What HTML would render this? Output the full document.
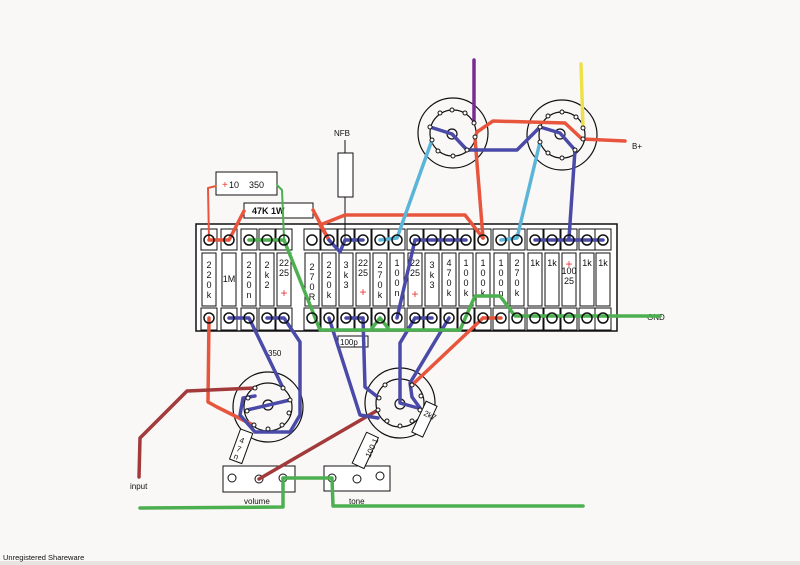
<!DOCTYPE html>
<html><head><meta charset="utf-8"><style>
html,body{margin:0;padding:0;background:#faf8f7}
svg{display:block}
text{font-family:"Liberation Sans",sans-serif;fill:#111}
</style></head><body>
<svg width="800" height="565" viewBox="0 0 800 565" xmlns="http://www.w3.org/2000/svg">
<rect width="800" height="565" fill="#faf8f7"/>
<rect x="0" y="561" width="800" height="4" fill="#e8e4e1"/>
<!-- board -->
<rect x="196" y="224" width="421" height="107" fill="#fff" stroke="#111" stroke-width="1.5"/>
<g fill="#fff" stroke="#111" stroke-width="1">
<rect x="201" y="229" width="16" height="21"/><rect x="221" y="229" width="16" height="21"/><rect x="241" y="229" width="16" height="21"/><rect x="259" y="229" width="16" height="21"/><rect x="276" y="229" width="16" height="21"/><rect x="304" y="229" width="16" height="21"/><rect x="321" y="229" width="16" height="21"/><rect x="338" y="229" width="16" height="21"/><rect x="355" y="229" width="16" height="21"/><rect x="372" y="229" width="16" height="21"/><rect x="389" y="229" width="16" height="21"/><rect x="407" y="229" width="16" height="21"/><rect x="424" y="229" width="16" height="21"/><rect x="441" y="229" width="16" height="21"/><rect x="458" y="229" width="16" height="21"/><rect x="475" y="229" width="16" height="21"/><rect x="493" y="229" width="16" height="21"/><rect x="509" y="229" width="16" height="21"/><rect x="527" y="229" width="16" height="21"/><rect x="544" y="229" width="16" height="21"/><rect x="561" y="229" width="16" height="21"/><rect x="579" y="229" width="16" height="21"/><rect x="595" y="229" width="16" height="21"/>
<rect x="201" y="308" width="16" height="22"/><rect x="221" y="308" width="16" height="22"/><rect x="241" y="308" width="16" height="22"/><rect x="259" y="308" width="16" height="22"/><rect x="276" y="308" width="16" height="22"/><rect x="304" y="308" width="16" height="22"/><rect x="321" y="308" width="16" height="22"/><rect x="338" y="308" width="16" height="22"/><rect x="355" y="308" width="16" height="22"/><rect x="372" y="308" width="16" height="22"/><rect x="389" y="308" width="16" height="22"/><rect x="407" y="308" width="16" height="22"/><rect x="424" y="308" width="16" height="22"/><rect x="441" y="308" width="16" height="22"/><rect x="458" y="308" width="16" height="22"/><rect x="475" y="308" width="16" height="22"/><rect x="493" y="308" width="16" height="22"/><rect x="509" y="308" width="16" height="22"/><rect x="527" y="308" width="16" height="22"/><rect x="544" y="308" width="16" height="22"/><rect x="561" y="308" width="16" height="22"/><rect x="579" y="308" width="16" height="22"/><rect x="595" y="308" width="16" height="22"/>
<rect x="202" y="253" width="14" height="53"/><rect x="222" y="253" width="14" height="53"/><rect x="242" y="253" width="14" height="53"/><rect x="260" y="253" width="14" height="53"/><rect x="277" y="253" width="14" height="53"/><rect x="305" y="253" width="14" height="53"/><rect x="322" y="253" width="14" height="53"/><rect x="339" y="253" width="14" height="53"/><rect x="356" y="253" width="14" height="53"/><rect x="373" y="253" width="14" height="53"/><rect x="390" y="253" width="14" height="53"/><rect x="408" y="253" width="14" height="53"/><rect x="425" y="253" width="14" height="53"/><rect x="442" y="253" width="14" height="53"/><rect x="459" y="253" width="14" height="53"/><rect x="476" y="253" width="14" height="53"/><rect x="494" y="253" width="14" height="53"/><rect x="510" y="253" width="14" height="53"/><rect x="528" y="253" width="14" height="53"/><rect x="545" y="253" width="14" height="53"/><rect x="562" y="253" width="14" height="53"/><rect x="580" y="253" width="14" height="53"/><rect x="596" y="253" width="14" height="53"/>
</g>
<!-- labels -->
<g font-size="9" text-anchor="middle">
<text x="209" y="268">2</text><text x="209" y="278">2</text><text x="209" y="288">0</text><text x="209" y="298">k</text>
<text x="229" y="282">1M</text>
<text x="249" y="268">2</text><text x="249" y="278">2</text><text x="249" y="288">0</text><text x="249" y="298">n</text>
<text x="267" y="268">2</text><text x="267" y="278">k</text><text x="267" y="288">2</text>
<text x="284" y="266">22</text><text x="284" y="276">25</text>
<text x="312" y="270">2</text><text x="312" y="280">7</text><text x="312" y="290">0</text><text x="312" y="300">R</text>
<text x="329" y="268">2</text><text x="329" y="278">2</text><text x="329" y="288">0</text><text x="329" y="298">k</text>
<text x="346" y="268">3</text><text x="346" y="278">k</text><text x="346" y="288">3</text>
<text x="363" y="266">22</text><text x="363" y="276">25</text>
<text x="380" y="268">2</text><text x="380" y="278">7</text><text x="380" y="288">0</text><text x="380" y="298">k</text>
<text x="397" y="266">1</text><text x="397" y="276">0</text><text x="397" y="286">0</text><text x="397" y="296">n</text>
<text x="415" y="266">22</text><text x="415" y="276">25</text>
<text x="432" y="268">3</text><text x="432" y="278">k</text><text x="432" y="288">3</text>
<text x="449" y="266">4</text><text x="449" y="276">7</text><text x="449" y="286">0</text><text x="449" y="296">k</text>
<text x="466" y="266">1</text><text x="466" y="276">0</text><text x="466" y="286">0</text><text x="466" y="296">k</text>
<text x="483" y="266">1</text><text x="483" y="276">0</text><text x="483" y="286">0</text><text x="483" y="296">k</text>
<text x="501" y="266">1</text><text x="501" y="276">0</text><text x="501" y="286">0</text><text x="501" y="296">n</text>
<text x="517" y="266">2</text><text x="517" y="276">7</text><text x="517" y="286">0</text><text x="517" y="296">k</text>
<text x="535" y="266">1k</text><text x="552" y="266">1k</text>
<text x="569" y="274">100</text><text x="569" y="284">25</text>
<text x="587" y="266">1k</text><text x="603" y="266">1k</text>
</g>
<g font-size="12" text-anchor="middle"><text x="284" y="297" style="fill:#e33">+</text><text x="363" y="296" style="fill:#e33">+</text><text x="415" y="298" style="fill:#e33">+</text><text x="569" y="268" style="fill:#e33">+</text></g>
<!-- top components -->
<rect x="216" y="172" width="61" height="23" fill="#fff" stroke="#111"/>
<text x="222" y="188" font-size="10" style="fill:#e33">+</text><text x="229" y="188" font-size="9">10</text><text x="249" y="188" font-size="9">350</text>
<rect x="244" y="203" width="69" height="15" fill="#fff" stroke="#111"/>
<text x="252" y="214" font-size="9" font-weight="bold">47K 1W</text>
<text x="334" y="136" font-size="8">NFB</text>
<line x1="345" y1="140" x2="345" y2="153" stroke="#111"/>
<rect x="338" y="153" width="15" height="44" fill="#fff" stroke="#111"/>
<line x1="345" y1="197" x2="345" y2="240" stroke="#111"/>
<text x="632" y="149" font-size="8">B+</text>
<text x="647" y="320" font-size="8">GND</text>
<text x="268" y="356" font-size="8">350</text>
<rect x="338" y="336" width="30" height="11" fill="#fff" stroke="#111"/>
<text x="340" y="345" font-size="8">100p</text>
<!-- tubes -->
<g fill="none" stroke="#111" stroke-width="1.2">
<circle cx="453" cy="133" r="35"/><circle cx="453" cy="133" r="23"/><circle cx="452" cy="134" r="5"/>
<circle cx="562" cy="135" r="35"/><circle cx="562" cy="135" r="23"/><circle cx="560" cy="134" r="5"/>
<circle cx="268" cy="407" r="35"/><circle cx="268" cy="407" r="24"/><circle cx="268" cy="405" r="5"/>
<circle cx="400" cy="403" r="35"/><circle cx="400" cy="403" r="24"/><circle cx="400" cy="404" r="5"/>
</g>
<!-- pots / boxes -->
<rect x="223" y="466" width="72" height="26" fill="#fff" stroke="#111"/>
<rect x="324" y="466" width="66" height="25" fill="#fff" stroke="#111"/>
<g fill="#fff" stroke="#111"><circle cx="232" cy="478" r="4"/><circle cx="259" cy="479" r="4"/><circle cx="283" cy="478" r="4"/><circle cx="332" cy="478" r="4"/><circle cx="357" cy="479" r="4"/><circle cx="380" cy="476" r="4"/></g>
<text x="244" y="504" font-size="8">volume</text><text x="349" y="504" font-size="8">tone</text>
<text x="130" y="489" font-size="8">input</text>
<g transform="translate(240,448) rotate(20)"><rect x="-6" y="-18" width="13" height="32" fill="#fff" stroke="#111"/><text x="-3" y="-5" font-size="8">4</text><text x="-3" y="4" font-size="8">7</text><text x="-3" y="12" font-size="8">n</text></g>
<g transform="translate(364,452) rotate(25)"><rect x="-6" y="-19" width="13" height="34" fill="#fff" stroke="#111"/><text x="-3" y="8" font-size="8" transform="rotate(-90 0 0)">100 1</text></g>
<g transform="translate(424,420) rotate(25)"><rect x="-6" y="-18" width="12" height="34" fill="#fff" stroke="#111"/><text x="-3" y="-4" font-size="8">2k7</text></g>
<!-- wires -->
<g fill="none" stroke-width="3.5" stroke-linejoin="round" stroke-linecap="round">
<polyline stroke="#7a2a93" points="474,60 474,123"/>
<polyline stroke="#eee04a" points="581,64 583,128"/>
<polyline stroke="#e8553d" points="483,238 475,138 477,132 493,121 565,123 582,139 625,141"/>
<polyline stroke="#e8553d" points="329,240 320,225 345,215 465,215 483,238"/>
<polyline stroke="#e8553d" points="209,240 229,240 244,211"/>
<polyline stroke="#e8553d" stroke-width="2" points="209,240 208,188 216,186"/>
<polyline stroke="#e8553d" points="313,210 329,240"/>
<polyline stroke="#e8553d" points="209,318 208,402 217,407 253,425"/>
<polyline stroke="#e8553d" points="483,318 501,318"/>
<polyline stroke="#e8553d" points="483,318 412,385"/>
<polyline stroke="#a23a3c" points="139,477 140,438 187,391 255,388"/>
<polyline stroke="#a23a3c" points="259,479 378,410"/>
<polyline stroke="#4a4aa8" points="430,127 452,134 467,150 517,150 540,127 560,133 575,150 569,238"/>
<polyline stroke="#4a4aa8" points="346,240 363,240"/>
<polyline stroke="#4a4aa8" points="329,240 340,252 345,240"/>
<polyline stroke="#4a4aa8" points="415,240 466,240"/>
<polyline stroke="#4a4aa8" points="535,240 603,240"/>
<polyline stroke="#4a4aa8" points="415,240 397,318"/>
<polyline stroke="#4a4aa8" points="229,318 249,318 283,388"/>
<polyline stroke="#4a4aa8" points="267,318 284,318 300,342 300,415 290,432 255,432 240,415 243,398 255,396"/>
<polyline stroke="#4a4aa8" points="247,410 290,400"/>
<polyline stroke="#4a4aa8" points="346,318 363,318"/>
<polyline stroke="#4a4aa8" points="415,318 432,318"/>
<polyline stroke="#4a4aa8" points="329,318 337,343 360,415 378,418"/>
<polyline stroke="#4a4aa8" points="363,318 365,387 379,398"/>
<polyline stroke="#4a4aa8" points="415,318 400,343 400,403 418,408"/>
<polyline stroke="#4a4aa8" points="449,318 410,383 412,397 420,408"/>
<polyline stroke="#5ab5d8" points="432,140 397,238 380,240"/>
<polyline stroke="#5ab5d8" points="540,142 517,238 501,240"/>
<polyline stroke="#4caf50" points="249,240 284,240"/>
<polyline stroke="#4caf50" stroke-width="2" points="277,185 282,190 284,238"/>
<polyline stroke="#4caf50" points="284,240 320,330 460,330 475,296 500,296 515,316 660,316"/>
<polyline stroke="#4caf50" points="372,328 380,318 388,328"/>
<polyline stroke="#4caf50" points="140,508 283,507 283,478 332,478 333,506 583,506"/>
</g>
<!-- terminal circles -->
<g fill="none" stroke="#111" stroke-width="1.5">
<circle cx="209" cy="240" r="5"/><circle cx="229" cy="240" r="5"/><circle cx="249" cy="240" r="5"/><circle cx="267" cy="240" r="5"/><circle cx="284" cy="240" r="5"/><circle cx="312" cy="240" r="5"/><circle cx="329" cy="240" r="5"/><circle cx="346" cy="240" r="5"/><circle cx="363" cy="240" r="5"/><circle cx="380" cy="240" r="5"/><circle cx="397" cy="240" r="5"/><circle cx="415" cy="240" r="5"/><circle cx="432" cy="240" r="5"/><circle cx="449" cy="240" r="5"/><circle cx="466" cy="240" r="5"/><circle cx="483" cy="240" r="5"/><circle cx="501" cy="240" r="5"/><circle cx="517" cy="240" r="5"/><circle cx="535" cy="240" r="5"/><circle cx="552" cy="240" r="5"/><circle cx="569" cy="240" r="5"/><circle cx="587" cy="240" r="5"/><circle cx="603" cy="240" r="5"/>
<circle cx="209" cy="318" r="5"/><circle cx="229" cy="318" r="5"/><circle cx="249" cy="318" r="5"/><circle cx="267" cy="318" r="5"/><circle cx="284" cy="318" r="5"/><circle cx="312" cy="318" r="5"/><circle cx="329" cy="318" r="5"/><circle cx="346" cy="318" r="5"/><circle cx="363" cy="318" r="5"/><circle cx="380" cy="318" r="5"/><circle cx="397" cy="318" r="5"/><circle cx="415" cy="318" r="5"/><circle cx="432" cy="318" r="5"/><circle cx="449" cy="318" r="5"/><circle cx="466" cy="318" r="5"/><circle cx="483" cy="318" r="5"/><circle cx="501" cy="318" r="5"/><circle cx="517" cy="318" r="5"/><circle cx="535" cy="318" r="5"/><circle cx="552" cy="318" r="5"/><circle cx="569" cy="318" r="5"/><circle cx="587" cy="318" r="5"/><circle cx="603" cy="318" r="5"/>
</g>
<!-- tube pins -->
<g fill="#fff" stroke="#111" stroke-width="1">
<circle cx="430" cy="127" r="2"/><circle cx="432" cy="140" r="2"/><circle cx="438" cy="151" r="2"/><circle cx="453" cy="156" r="2"/><circle cx="467" cy="150" r="2"/><circle cx="475" cy="137" r="2"/><circle cx="474" cy="123" r="2"/><circle cx="465" cy="113" r="2"/><circle cx="452" cy="110" r="2"/><circle cx="440" cy="113" r="2"/>
<circle cx="540" cy="127" r="2"/><circle cx="540" cy="142" r="2"/><circle cx="548" cy="153" r="2"/><circle cx="562" cy="158" r="2"/><circle cx="575" cy="150" r="2"/><circle cx="583" cy="139" r="2"/><circle cx="583" cy="128" r="2"/><circle cx="576" cy="117" r="2"/><circle cx="562" cy="112" r="2"/><circle cx="548" cy="116" r="2"/>
<circle cx="255" cy="388" r="2"/><circle cx="283" cy="388" r="2"/><circle cx="290" cy="400" r="2"/><circle cx="289" cy="413" r="2"/><circle cx="282" cy="425" r="2"/><circle cx="268" cy="429" r="2"/><circle cx="254" cy="425" r="2"/><circle cx="247" cy="411" r="2"/><circle cx="248" cy="398" r="2"/>
<circle cx="385" cy="385" r="2"/><circle cx="412" cy="385" r="2"/><circle cx="421" cy="396" r="2"/><circle cx="420" cy="410" r="2"/><circle cx="412" cy="421" r="2"/><circle cx="400" cy="426" r="2"/><circle cx="387" cy="421" r="2"/><circle cx="378" cy="410" r="2"/><circle cx="379" cy="398" r="2"/>
</g>
<text x="3" y="560" font-size="7.5">Unregistered Shareware</text>
</svg>
</body></html>
